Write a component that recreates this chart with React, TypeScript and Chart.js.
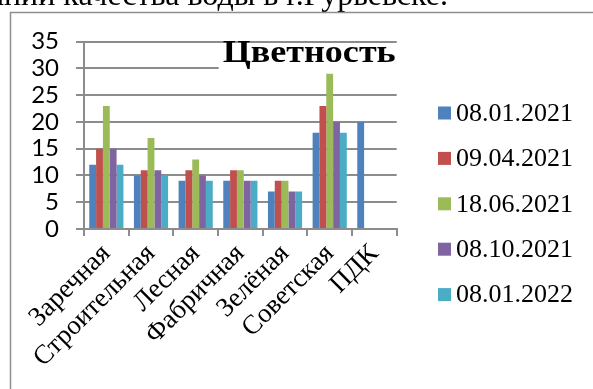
import React, { useEffect, useRef } from 'react';
import { Chart, registerables } from 'chart.js';

Chart.register(...registerables);

// Sampling points (streets) plus the permissible limit column
const categories = ['Заречная', 'Строительная', 'Лесная', 'Фабричная', 'Зелёная', 'Советская', 'ПДК'];

// Colour readings per sampling date
const seriesLabels = ['08.01.2021', '09.04.2021', '18.06.2021', '08.10.2021', '08.01.2022'];
const jan2021 = [12, 10, 9, 9, 7, 18, 20];
const apr2021 = [15, 11, 11, 11, 9, 23, null];
const jun2021 = [23, 17, 13, 11, 9, 29, null];
const oct2021 = [15, 11, 10, 9, 7, 20, null];
const jan2022 = [12, 10, 9, 9, 7, 18, null];

const seriesColors = ['#4F81BD', '#C0504D', '#9BBB59', '#8064A2', '#4BACC6'];

const yMin = 0;
const yMax = 35;
const yStep = 5;

const chartTitle = 'Цветность';
const caption = 'Результаты исследований качества воды в г.Гурьевске.';

const W = 593;
const H = 389;
const lineGray = '#8c8c8c';

const decorPlugin = {
  id: 'decor',
  beforeDraw(chart: any) {
    const ctx = chart.ctx;
    ctx.save();
    ctx.fillStyle = '#ffffff';
    ctx.fillRect(0, 0, chart.width, chart.height);
    // caption line of the document, running above the frame
    ctx.font = '32px "Liberation Serif"';
    ctx.fillStyle = '#000000';
    ctx.textAlign = 'right';
    ctx.textBaseline = 'alphabetic';
    ctx.fillText(caption, 448, 5);
    // chart frame
    ctx.strokeStyle = '#8f8f8f';
    ctx.lineWidth = 1.5;
    ctx.beginPath();
    ctx.moveTo(10.5, chart.height);
    ctx.lineTo(10.5, 12.5);
    ctx.lineTo(chart.width, 12.5);
    ctx.stroke();
    ctx.restore();
  },
  beforeDatasetsDraw(chart: any) {
    const ctx = chart.ctx;
    const area = chart.chartArea;
    ctx.save();
    ctx.font = 'bold 31px "Liberation Serif"';
    const w = ctx.measureText(chartTitle).width;
    const titleWidth = 173;
    const right = area.right - 1;
    const left = right - titleWidth;
    ctx.fillStyle = '#ffffff';
    ctx.fillRect(left - 4, 43.5, area.right + 2 - (left - 4), 29);
    ctx.fillStyle = '#000000';
    ctx.textAlign = 'left';
    ctx.textBaseline = 'alphabetic';
    // the title face is set wide: stretch it horizontally
    ctx.translate(left, 62);
    ctx.scale(titleWidth / w, 1);
    ctx.fillText(chartTitle, 0, 0);
    ctx.restore();
  },
  afterDraw(chart: any) {
    const ctx = chart.ctx;
    ctx.save();
    ctx.font = '26px "Liberation Serif"';
    ctx.textAlign = 'left';
    ctx.textBaseline = 'middle';
    chart.data.datasets.forEach((ds: any, i: number) => {
      const cy = 113 + i * 45.4;
      ctx.fillStyle = ds.backgroundColor;
      ctx.fillRect(438, cy - 6.5, 13, 13);
      ctx.fillStyle = '#000000';
      ctx.fillText(ds.label, 456, cy + 1);
    });
    ctx.restore();
  },
};

export default function App() {
  const canvasRef = useRef<HTMLCanvasElement | null>(null);

  useEffect(() => {
    if (!canvasRef.current) return;
    const series = [jan2021, apr2021, jun2021, oct2021, jan2022];
    const chart = new Chart(canvasRef.current, {
      type: 'bar',
      data: {
        labels: categories,
        datasets: series.map((values, i) => ({
          label: seriesLabels[i],
          data: values,
          backgroundColor: seriesColors[i],
          borderWidth: 0,
          barPercentage: 1,
          categoryPercentage: 0.765,
        })),
      },
      options: {
        responsive: false,
        animation: false,
        devicePixelRatio: 1,
        layout: { padding: { top: 41.7, right: W - 396.7, bottom: 0, left: 0 } },
        plugins: {
          legend: { display: false },
          tooltip: { enabled: false },
          title: { display: false },
        },
        scales: {
          x: {
            grid: {
              drawOnChartArea: false,
              drawTicks: true,
              tickLength: 7,
              color: lineGray,
              lineWidth: 2,
              offset: true,
            },
            border: { display: true, color: lineGray, width: 2 },
            ticks: {
              color: '#000000',
              font: { family: 'Liberation Serif', size: 27 },
              minRotation: 45,
              maxRotation: 45,
              autoSkip: false,
              padding: 2,
            },
            afterFit: (s: any) => {
              s.height = 160;
            },
          },
          y: {
            min: yMin,
            max: yMax,
            ticks: {
              stepSize: yStep,
              autoSkip: false,
              color: '#000000',
              font: { family: 'Lato', size: 24 },
              padding: 17,
            },
            grid: { color: lineGray, lineWidth: 2, tickLength: 8 },
            border: { display: true, color: lineGray, width: 2 },
            afterFit: (s: any) => {
              s.width = 84;
            },
          },
        },
      },
      plugins: [decorPlugin],
    } as any);
    return () => chart.destroy();
  }, []);

  return (
    <div style={{ position: 'fixed', left: 0, top: 0, width: W, height: H, background: '#fff' }}>
      <canvas ref={canvasRef} width={W} height={H} style={{ display: 'block', width: W, height: H }} />
    </div>
  );
}
